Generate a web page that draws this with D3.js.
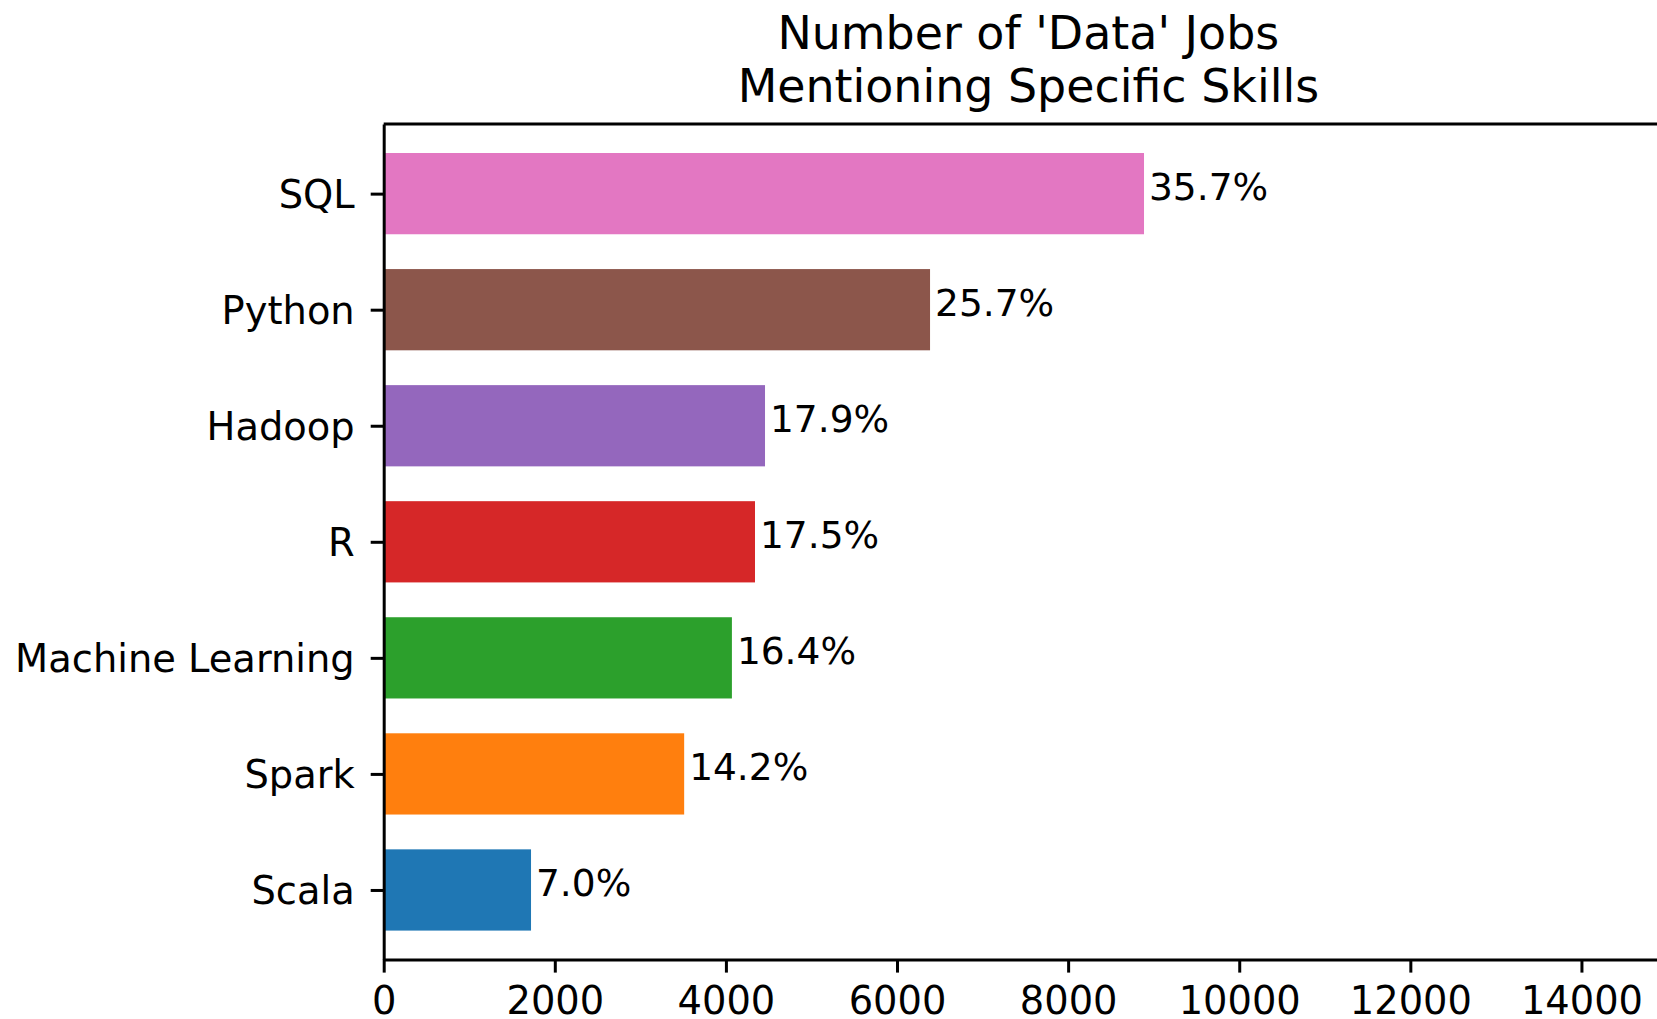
<!DOCTYPE html>
<html>
<head>
<meta charset="utf-8">
<script src="https://cdn.jsdelivr.net/npm/d3@7"></script>
<style>
  body { margin: 0; background: #fff; }
  svg { display: block; }
  text { font-family: "DejaVu Sans", sans-serif; fill: #000; }
</style>
</head>
<body>
<div id="chart"></div>
<script>
// skills, bottom to top
var skills = ['Scala', 'Spark', 'Machine Learning', 'R', 'Hadoop', 'Python', 'SQL'];
var jobCounts = [1722, 3512, 4070, 4340, 4457, 6386, 8887];
var percentLabels = ['7.0%', '14.2%', '16.4%', '17.5%', '17.9%', '25.7%', '35.7%'];
var barColors = ['#1f77b4', '#ff7f0e', '#2ca02c', '#d62728', '#9467bd', '#8c564b', '#e377c2'];
var xTicks = [0, 2000, 4000, 6000, 8000, 10000, 12000, 14000];
var titleLines = ["Number of 'Data' Jobs", "Mentioning Specific Skills"];

var svgWidth = 1657;
var svgHeight = 1019;

var margin = { left: 383.7, top: 124, bottom: 959.6, right: 1667 };

var svg = d3.select("#chart")
  .append("svg")
  .attr("width", svgWidth)
  .attr("height", svgHeight);

var xScale = d3.scaleLinear()
  .domain([0, 15000])
  .range([margin.left, margin.right]);

var yScale = d3.scaleLinear()
  .domain([-0.6, 6.6])
  .range([margin.bottom, margin.top]);

var barH = yScale(0) - yScale(0.7);

// bars
svg.selectAll("rect.bar")
  .data(jobCounts)
  .enter()
  .append("rect")
  .attr("class", "bar")
  .attr("x", xScale(0))
  .attr("y", (d, i) => yScale(i) - barH / 2)
  .attr("width", d => xScale(d) - xScale(0))
  .attr("height", barH)
  .attr("fill", (d, i) => barColors[i]);

// value labels
svg.selectAll("text.val")
  .data(jobCounts)
  .enter()
  .append("text")
  .attr("class", "val")
  .attr("x", d => xScale(d) + 5)
  .attr("y", (d, i) => yScale(i) + 6.5)
  .style("font-size", "37.5px")
  .text((d, i) => percentLabels[i]);

// axes
var xAxis = d3.axisBottom(xScale)
  .tickValues(xTicks)
  .tickFormat(d3.format("d"))
  .tickSize(13)
  .tickSizeOuter(0)
  .tickPadding(13);

var yAxis = d3.axisLeft(yScale)
  .tickValues(d3.range(skills.length))
  .tickFormat(i => skills[i])
  .tickSize(13)
  .tickSizeOuter(0)
  .tickPadding(16);

var gx = svg.append("g")
  .attr("transform", `translate(0, ${margin.bottom})`)
  .call(xAxis);

var gy = svg.append("g")
  .attr("transform", `translate(${margin.left}, 0)`)
  .call(yAxis);

[gx, gy].forEach(g => {
  g.selectAll("path, line").attr("stroke", "#000").attr("stroke-width", 3);
  g.selectAll("text").style("font-size", "38.4px").attr("fill", "#000");
});
gx.selectAll("text").attr("dy", "0.74em");
gy.selectAll("text").attr("dy", "0.36em");

// top spine
svg.append("line")
  .attr("x1", margin.left)
  .attr("x2", margin.right)
  .attr("y1", margin.top)
  .attr("y2", margin.top)
  .attr("stroke", "#000")
  .attr("stroke-width", 3);

// right spine (off canvas)
svg.append("line")
  .attr("x1", margin.right)
  .attr("x2", margin.right)
  .attr("y1", margin.top)
  .attr("y2", margin.bottom)
  .attr("stroke", "#000")
  .attr("stroke-width", 3);

// title
svg.append("text")
  .attr("text-anchor", "middle")
  .style("font-size", "45.9px")
  .selectAll("tspan")
  .data(titleLines)
  .enter()
  .append("tspan")
  .attr("x", (margin.left + margin.right) / 2 + 3)
  .attr("y", (d, i) => 48.6 + i * 53)
  .text(d => d);
</script>
</body>
</html>
